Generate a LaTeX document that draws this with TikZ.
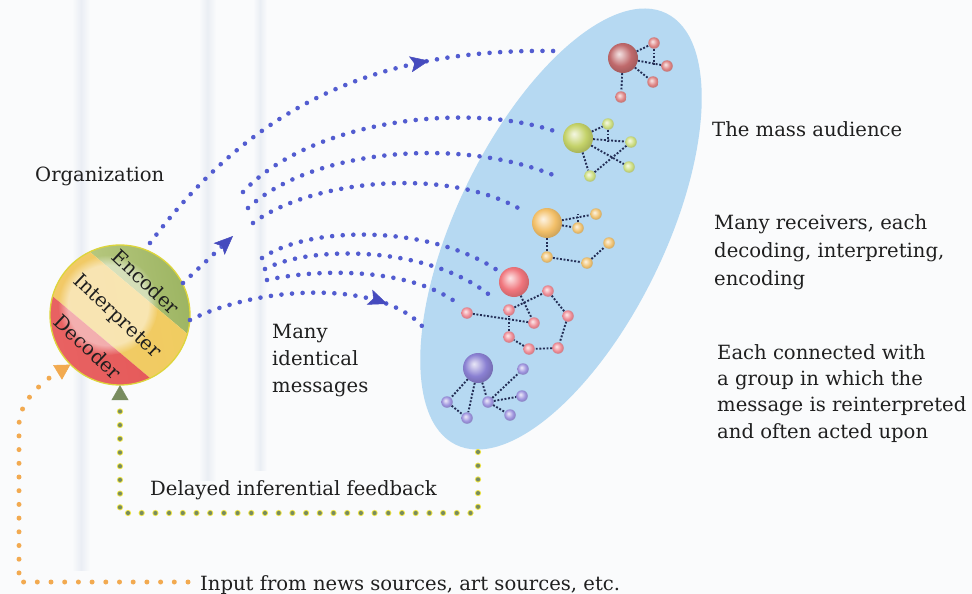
\documentclass[tikz,border=0pt]{standalone}
\usepackage{fontspec}
\setmainfont{DejaVu Serif}
\usetikzlibrary{arrows.meta,decorations.markings,shapes.geometric,fadings,calc}
\definecolor{bgwhite}{RGB}{250,251,252}
\definecolor{streak}{RGB}{234,238,244}
\definecolor{msgblue}{RGB}{82,92,208}
\definecolor{arrblue}{RGB}{70,75,190}
\definecolor{audblue}{RGB}{182,217,242}
\definecolor{fbgreen}{RGB}{120,140,95}
\definecolor{fbyellow}{RGB}{238,228,70}
\definecolor{inorange}{RGB}{242,170,80}
\definecolor{netdark}{RGB}{35,45,85}
\definecolor{encA}{RGB}{190,205,135}
\definecolor{encB}{RGB}{135,165,75}
\definecolor{intA}{RGB}{242,200,105}
\definecolor{intB}{RGB}{240,205,95}
\definecolor{decA}{RGB}{235,105,105}
\definecolor{decB}{RGB}{228,88,88}
\definecolor{redc}{RGB}{192,106,108}
\definecolor{redsm}{RGB}{222,132,132}
\definecolor{grnc}{RGB}{196,210,105}
\definecolor{grnsm}{RGB}{205,222,130}
\definecolor{orgc}{RGB}{243,192,105}
\definecolor{orgsm}{RGB}{240,195,115}
\definecolor{pnkc}{RGB}{240,118,125}
\definecolor{pnksm}{RGB}{238,140,150}
\definecolor{purc}{RGB}{138,128,210}
\definecolor{pursm}{RGB}{158,148,222}
\colorlet{sphc}{red}
\pgfdeclareradialshading[sphc]{softball}{\pgfqpoint{-7bp}{7bp}}{%
 color(0bp)=(sphc!20!white); color(5bp)=(sphc!40!white); color(18bp)=(sphc);
 color(30bp)=(sphc!82!black); color(50bp)=(sphc!82!black)}
\tikzset{
 lbl/.style={font=\fontsize{19.6}{24}\selectfont, inner sep=0pt, text=black!88},
 msg/.style={draw=msgblue, line width=4.6pt, line cap=round, dash pattern=on 0pt off 10.6pt},
 msgtip/.style={-{Stealth[length=19pt,width=16pt,inset=4pt,line width=0.5pt,arrblue]}},
 midtip/.style={postaction={decorate, decoration={markings,
   mark=at position #1 with {\arrow[arrblue]{Stealth[length=19pt,width=16pt,inset=4pt,line width=0.5pt]}}}}},
 fbhalo/.style={draw=fbyellow, line width=6.2pt, line cap=round, dash pattern=on 0pt off 13.7pt},
 fbdot/.style={draw=fbgreen, line width=4.2pt, line cap=round, dash pattern=on 0pt off 13.7pt},
 indot/.style={draw=inorange, line width=5pt, line cap=round, dash pattern=on 0pt off 13.7pt},
 net/.style={draw=netdark, line width=1.9pt, dash pattern=on 1.9pt off 1.7pt},
 bigball/.style={circle, inner sep=0pt, minimum size=30pt, /utils/exec={\colorlet{sphc}{#1}}, shade, shading=softball},
 smallball/.style={circle, inner sep=0pt, minimum size=11.5pt, /utils/exec={\colorlet{sphc}{#1}}, shade, shading=softball},
}
\begin{document}
\begin{tikzpicture}[x=1pt,y=-1pt]
\useasboundingbox (0,0) rectangle (972,594);
\fill[bgwhite] (0,0) rectangle (972,594);
% faint background streaks
\shade[left color=bgwhite, right color=bgwhite, middle color=streak] (72,0) rectangle (90,570);
\shade[left color=bgwhite, right color=bgwhite, middle color=streak] (199,0) rectangle (216,480);
\shade[left color=bgwhite, right color=bgwhite, middle color=streak] (253,0) rectangle (267,470);

% audience ellipse
\node[ellipse, fill=audblue, minimum width=480pt, minimum height=208pt, inner sep=0pt, rotate=64] (aud) at (561,229) {};

% organization circle
\node[circle, minimum size=140pt, inner sep=0pt] (org) at (120,315) {};
\begin{scope}
 \clip (120,315) circle (70);
 \shade[left color=encA, right color=encB, shading angle=100] (62,228.5) -- (215.2,357.1) -- (260.9,302.7) -- (107.7,174.1) -- cycle;
 \shade[left color=intA, right color=intB, shading angle=100] (62,228.5) -- (215.2,357.1) -- (178,401.5) -- (24.8,272.9) -- cycle;
 \shade[left color=decA, right color=decB, shading angle=100] (24.8,272.9) -- (178,401.5) -- (132.3,455.9) -- (-20.9,327.3) -- cycle;
 \fill[white, fill opacity=0.5, path fading=circle with fuzzy edge 20 percent] (108,305) circle (50);
\end{scope}
\draw[fbyellow!85!olive, line width=1.3pt] (120,315) circle (70);
\node[lbl, rotate=-43] (tenc) at (146,282) {Encoder};
\node[lbl, rotate=-43] (tint) at (117,317) {Interpreter};
\node[lbl, rotate=-43] (tdec) at (88,347) {Decoder};

% message coordinates
\coordinate (a0) at (150,243); \coordinate (a1) at (555,51);
\coordinate (s0) at (183,283); \coordinate (s1) at (233,236);
\coordinate (ua0) at (243,192); \coordinate (ua1) at (560,133);
\coordinate (ub0) at (248,208); \coordinate (ub1) at (558,177);
\coordinate (uc0) at (253,223); \coordinate (uc1) at (525,212);
\coordinate (ld0) at (262,258); \coordinate (ld1) at (497,270);
\coordinate (le0) at (265,269); \coordinate (le1) at (492,297);
\coordinate (lf0) at (267,280); \coordinate (lf1) at (457,303);
\coordinate (g0) at (190,320); \coordinate (g1) at (422,326);

\draw[msg, midtip=0.73] (a0) .. controls (250,110) and (370,48) .. (a1);
\draw[msg, msgtip] (s0) -- (s1);
\draw[msg] (ua0) .. controls (310,120) and (470,100) .. (ua1);
\draw[msg] (ub0) .. controls (310,150) and (460,135) .. (ub1);
\draw[msg] (uc0) .. controls (310,180) and (450,165) .. (uc1);
\draw[msg] (ld0) .. controls (310,225) and (430,225) .. (ld1);
\draw[msg] (le0) .. controls (310,245) and (430,245) .. (le1);
\draw[msg] (lf0) .. controls (320,268) and (410,268) .. (lf1);
\draw[msg, midtip=0.83] (g0) .. controls (260,285) and (380,280) .. (g1);

% feedback
\coordinate (fb0) at (478,452); \coordinate (fb1) at (478,513); \coordinate (fb2) at (120,513);
\draw[fbhalo] (fb0) -- (fb1) -- (fb2) -- ([yshift=-16pt]org.south);
\draw[fbdot, -{Triangle[length=15pt,width=17pt,line width=0.5pt,fbgreen]}] (fb0) -- (fb1) -- (fb2) -- (org.south);

% input
\coordinate (in0) at (188,582); \coordinate (in1) at (19,582); \coordinate (in2) at (19,425);
\draw[indot, -{Triangle[length=15pt,width=17pt,line width=0.5pt,inorange]}] (in0) -- (in1) -- (in2) .. controls (19,400) and (45,380) .. (org.225);

% receivers: red group
\node[bigball=redc] (r0) at (623,58) {};
\node[smallball=redsm] (r1) at (654,43) {};
\node[smallball=redsm] (r2) at (667,66) {};
\node[smallball=redsm] (r3) at (653,82) {};
\node[smallball=redsm] (r4) at (621,97) {};
\draw[net] (r0) -- (r1); \draw[net] (r0) -- (r2); \draw[net] (r0) -- (r3); \draw[net] (r0) -- (r4);
\draw[net] (r1) -- (r1 |- r2);

% green group
\node[bigball=grnc] (gg0) at (578,138) {};
\node[smallball=grnsm] (gg1) at (608,124) {};
\node[smallball=grnsm] (gg2) at (631,142) {};
\node[smallball=grnsm] (gg3) at (629,167) {};
\node[smallball=grnsm] (gg4) at (590,176) {};
\draw[net] (gg0) -- (gg1); \draw[net] (gg1) -- (gg1 |- gg2); \draw[net] (gg0) -- (gg2);
\draw[net] (gg0) -- (gg3); \draw[net] (gg4) -- (gg2); \draw[net] (gg0) -- (gg4);

% orange group
\node[bigball=orgc] (o0) at (547,223) {};
\node[smallball=orgsm] (o1) at (596,214) {};
\node[smallball=orgsm] (o2) at (578,228) {};
\node[smallball=orgsm] (o3) at (609,243) {};
\node[smallball=orgsm] (o4) at (587,263) {};
\node[smallball=orgsm] (o5) at (547,257) {};
\draw[net] (o0) -- (o1); \draw[net] (o0) -- (o2); \draw[net] (o2) -- (o2 |- o1);
\draw[net] (o0) -- (o5); \draw[net] (o5) -- (o4); \draw[net] (o4) -- (o3);

% pink group
\node[bigball=pnkc] (p0) at (514,282) {};
\node[smallball=pnksm] (p1) at (548,291) {};
\node[smallball=pnksm] (p2) at (568,316) {};
\node[smallball=pnksm] (p3) at (558,348) {};
\node[smallball=pnksm] (p4) at (529,349) {};
\node[smallball=pnksm] (p5) at (509,337) {};
\node[smallball=pnksm] (p6) at (509,310) {};
\node[smallball=pnksm] (p7) at (534,323) {};
\node[smallball=pnksm] (p8) at (467,313) {};
\draw[net] (p6) -- (p1); \draw[net] (p1) -- (p2); \draw[net] (p2) -- (p3); \draw[net] (p3) -- (p4);
\draw[net] (p4) -- (p5); \draw[net] (p5) -- (p6); \draw[net] (p8) -- (p7); \draw[net] (p0) -- (p7);

% purple group
\node[bigball=purc] (u0) at (478,368) {};
\node[smallball=pursm] (u1) at (523,369) {};
\node[smallball=pursm] (u2) at (522,396) {};
\node[smallball=pursm] (u3) at (510,415) {};
\node[smallball=pursm] (u4) at (488,402) {};
\node[smallball=pursm] (u5) at (467,418) {};
\node[smallball=pursm] (u6) at (447,402) {};
\draw[net] (u0) -- (u6); \draw[net] (u6) -- (u5); \draw[net] (u0) -- (u5); \draw[net] (u0) -- (u4);
\draw[net] (u4) -- (u1); \draw[net] (u4) -- (u2); \draw[net] (u4) -- (u3);

% texts
\node[lbl, anchor=base west] (torg) at (35,181) {Organization};
\node[lbl, anchor=base west] (tmass) at (712,136) {The mass audience};
\node[lbl, anchor=base west] (trec1) at (714,229) {Many receivers, each};
\node[lbl, anchor=base west] (trec2) at (714,257) {decoding, interpreting,};
\node[lbl, anchor=base west] (trec3) at (714,285) {encoding};
\node[lbl, anchor=base west] (tgrp1) at (717,359) {Each connected with};
\node[lbl, anchor=base west] (tgrp2) at (717,385) {a group in which the};
\node[lbl, anchor=base west] (tgrp3) at (717,411) {message is reinterpreted};
\node[lbl, anchor=base west] (tgrp4) at (717,438) {and often acted upon};
\node[lbl, anchor=base west] (tmsg1) at (272,338) {Many};
\node[lbl, anchor=base west] (tmsg2) at (272,365) {identical};
\node[lbl, anchor=base west] (tmsg3) at (272,392) {messages};
\node[lbl, anchor=base west] (tfb) at (150,495) {Delayed inferential feedback};
\node[lbl, anchor=base west] (tin) at (200,590) {Input from news sources, art sources, etc.};
\end{tikzpicture}
\end{document}
